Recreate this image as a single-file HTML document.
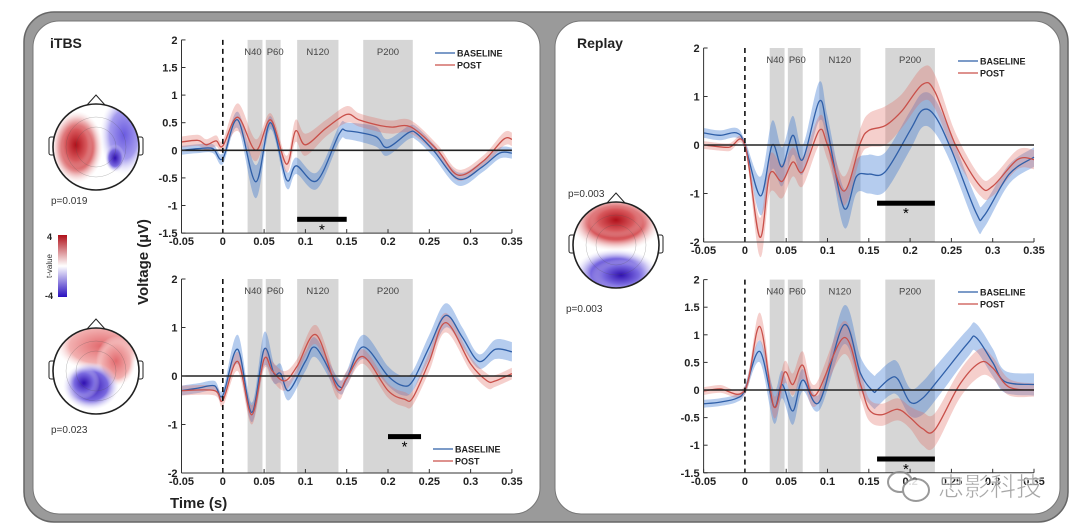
<!DOCTYPE html>
<html><head><meta charset="utf-8"><style>
html,body{margin:0;padding:0;background:#fff;}
svg{display:block;font-family:"Liberation Sans",Arial,sans-serif;}
</style></head><body>
<svg id="s" width="1080" height="532" viewBox="0 0 1080 532" xmlns="http://www.w3.org/2000/svg">
<defs>
<radialGradient id="r1" cx="0.5" cy="0.5" r="0.5"><stop offset="0" stop-color="#b0101a"/><stop offset="0.6" stop-color="#d85a5e"/><stop offset="1" stop-color="#f6d6d6" stop-opacity="0"/></radialGradient>
<radialGradient id="b1" cx="0.5" cy="0.5" r="0.5"><stop offset="0" stop-color="#3010b0"/><stop offset="0.6" stop-color="#7a6ae0"/><stop offset="1" stop-color="#e0dcf8" stop-opacity="0"/></radialGradient>
<radialGradient id="b2" cx="0.5" cy="0.5" r="0.5"><stop offset="0" stop-color="#6a5ae0"/><stop offset="0.6" stop-color="#a59cee"/><stop offset="1" stop-color="#e8e6fa" stop-opacity="0"/></radialGradient>
<radialGradient id="r2" cx="0.5" cy="0.5" r="0.5"><stop offset="0" stop-color="#e26a6e"/><stop offset="0.7" stop-color="#f2b0b0"/><stop offset="1" stop-color="#fbe6e6" stop-opacity="0"/></radialGradient>
<linearGradient id="cb" x1="0" y1="0" x2="0" y2="1"><stop offset="0" stop-color="#b0101a"/><stop offset="0.5" stop-color="#ffffff"/><stop offset="1" stop-color="#2a10c0"/></linearGradient>
<clipPath id="h1"><circle cx="96" cy="147" r="43"/></clipPath>
<clipPath id="h2"><circle cx="96" cy="371" r="43"/></clipPath>
<clipPath id="h3"><circle cx="616" cy="245" r="43"/></clipPath>
</defs>
<rect x="24" y="12" width="1044" height="510" rx="30" fill="#9a9a9a" stroke="#666" stroke-width="1.5"/>
<rect x="33" y="21" width="507" height="493" rx="26" fill="#fff" stroke="#777"/>
<rect x="555" y="21" width="505" height="493" rx="26" fill="#fff" stroke="#777"/>
<g id="plots"></g>
<g id="topo"></g>
<text x="50" y="48" font-size="14" font-weight="bold" fill="#222">iTBS</text>
<text x="577" y="48" font-size="14" font-weight="bold" fill="#222">Replay</text>
<text x="51" y="204" font-size="10" fill="#333">p=0.019</text>
<text x="51" y="433" font-size="10" fill="#333">p=0.023</text>
<text x="568" y="197" font-size="10" fill="#333">p=0.003</text>
<text x="566" y="312" font-size="10" fill="#333">p=0.003</text>
<rect x="58" y="235" width="9" height="62" fill="url(#cb)"/>
<text x="47" y="240" font-size="9" font-weight="bold" fill="#222">4</text>
<text x="45" y="299" font-size="9" font-weight="bold" fill="#222">-4</text>
<text transform="translate(52,266) rotate(-90)" font-size="8" text-anchor="middle" fill="#333">t-value</text>
<text transform="translate(148,262) rotate(-90)" font-size="15" font-weight="bold" text-anchor="middle" fill="#222">Voltage (µV)</text>
<text x="170" y="508" font-size="15" font-weight="bold" fill="#222">Time (s)</text>
<g fill="#888" opacity="0.85">
<ellipse cx="900" cy="482" rx="12" ry="10" fill="none" stroke="#888" stroke-width="2"/>
<ellipse cx="916" cy="490" rx="13" ry="11" fill="#fff" stroke="#888" stroke-width="2"/>
<text x="938" y="496" font-size="26" font-family="'Noto Sans CJK SC',sans-serif" fill="#999" stroke="#fff" stroke-width="0.6">忠影科技</text>
</g>
</svg>
<script>
const NS="http://www.w3.org/2000/svg";
const G=document.getElementById('plots');
function el(n,a,p){const e=document.createElementNS(NS,n);for(const k in a)e.setAttribute(k,a[k]);(p||G).appendChild(e);return e;}
function cr(pts){let d="M"+pts[0][0].toFixed(1)+" "+pts[0][1].toFixed(1);
 for(let i=0;i<pts.length-1;i++){const p0=pts[Math.max(i-1,0)],p1=pts[i],p2=pts[i+1],p3=pts[Math.min(i+2,pts.length-1)];
 const c1=[p1[0]+(p2[0]-p0[0])/6,p1[1]+(p2[1]-p0[1])/6],c2=[p2[0]-(p3[0]-p1[0])/6,p2[1]-(p3[1]-p1[1])/6];
 d+=" C"+c1[0].toFixed(1)+" "+c1[1].toFixed(1)+" "+c2[0].toFixed(1)+" "+c2[1].toFixed(1)+" "+p2[0].toFixed(1)+" "+p2[1].toFixed(1);}
 return d;}
function plot(o){
 const X=t=>o.x0+(t+0.05)/0.05*o.dx, Y=v=>o.y0-v*o.dy;
 [[0.03,0.048,"N40",-2],[0.052,0.07,"P60",2],[0.09,0.14,"N120",0],[0.17,0.23,"P200",0]].forEach(b=>{
  el('rect',{x:X(b[0]),y:Y(o.ymax),width:X(b[1])-X(b[0]),height:Y(o.ymin)-Y(o.ymax),fill:"#d6d6d6"});
  el('text',{x:(X(b[0])+X(b[1]))/2+b[3],y:Y(o.ymax)+15,"font-size":9.5,"text-anchor":"middle",fill:"#444"}).textContent=b[2];});
 [[o.blue,"rgba(60,120,210,0.38)"],[o.red,"rgba(225,110,100,0.33)"]].forEach(s=>{
  const d=s[0];const up=d.map(p=>[X(p[0]),Y(p[1]+(p[2]||0.13))]),lo=d.map(p=>[X(p[0]),Y(p[1]-(p[2]||0.13))]).reverse();
  el('path',{d:cr(up)+" "+cr(lo).replace(/^M/,"L")+" Z",fill:s[1]});
 });
 [[o.blue,"#2f5fa8"],[o.red,"#c9504a"]].forEach(s=>{el('path',{d:cr(s[0].map(p=>[X(p[0]),Y(p[1])])),fill:"none",stroke:s[1],"stroke-width":1.3});});
 el('line',{x1:X(-0.05),x2:X(0.35),y1:Y(0),y2:Y(0),stroke:"#222","stroke-width":1.6});
 el('line',{x1:X(0),x2:X(0),y1:Y(o.ymax),y2:Y(o.ymin),stroke:"#111","stroke-width":1.6,"stroke-dasharray":"5,4"});
 el('rect',{x:X(o.sig[0]),y:Y(o.sig[2])-2.5,width:X(o.sig[1])-X(o.sig[0]),height:5,fill:"#000"});
 el('text',{x:(X(o.sig[0])+X(o.sig[1]))/2,y:Y(o.sig[2])+15,"font-size":15,"text-anchor":"middle",fill:"#000"}).textContent="*";
 el('line',{x1:X(-0.05),x2:X(-0.05),y1:Y(o.ymax),y2:Y(o.ymin),stroke:"#333"});
 el('line',{x1:X(-0.05),x2:X(0.35),y1:Y(o.ymin),y2:Y(o.ymin),stroke:"#333"});
 for(let i=0;i<=8;i++){const t=-0.05+i*0.05,x=X(t);el('line',{x1:x,x2:x,y1:Y(o.ymin),y2:Y(o.ymin)-4,stroke:"#333"});
  el('text',{x:x,y:Y(o.ymin)+12,"font-size":11,"font-weight":"bold","text-anchor":"middle",fill:"#222"}).textContent=(i==1?"0":(+t.toFixed(2)).toString());}
 for(let v=o.ymin;v<=o.ymax+1e-9;v+=o.step){const y=Y(v);el('line',{x1:X(-0.05),x2:X(-0.05)+4,y1:y,y2:y,stroke:"#333"});
  el('text',{x:X(-0.05)-4,y:y+4,"font-size":11,"font-weight":"bold","text-anchor":"end",fill:"#222"}).textContent=(+v.toFixed(1)).toString();}
 const lx=o.leg[0],ly=o.leg[1];
 el('line',{x1:lx,x2:lx+20,y1:ly,y2:ly,stroke:"#2f5fa8","stroke-width":1.3});
 el('line',{x1:lx,x2:lx+20,y1:ly+12,y2:ly+12,stroke:"#c9504a","stroke-width":1.3});
 el('text',{x:lx+22,y:ly+3.5,"font-size":9,"font-weight":"bold",fill:"#222"}).textContent="BASELINE";
 el('text',{x:lx+22,y:ly+15.5,"font-size":9,"font-weight":"bold",fill:"#222"}).textContent="POST";
}
plot({x0:181.5,dx:41.3,y0:150.3,dy:55.2,ymax:2,ymin:-1.5,step:0.5,sig:[0.09,0.15,-1.25],leg:[435,53],
 blue:[[-0.05,0.0,0.08],[-0.03,0.03,0.08],[-0.012,0.03,0.08],[0,-0.15,0.1],[0.018,0.55,0.15],[0.04,-0.57,0.3],[0.0575,0.5,0.12],[0.077,-0.53,0.15],[0.089,-0.28,0.15],[0.114,-0.55,0.15],[0.141,0.3,0.15],[0.151,0.35,0.15],[0.185,0.25,0.18],[0.199,0.05,0.15],[0.225,0.32,0.12],[0.235,0.3,0.12],[0.255,0.0,0.12],[0.285,-0.52,0.12],[0.314,-0.3,0.1],[0.335,-0.05,0.1],[0.35,-0.05,0.1]],
 red:[[-0.05,0.15,0.1],[-0.03,0.18,0.1],[-0.02,0.1,0.1],[-0.008,0.17,0.1],[0,0.08,0.1],[0.018,0.6,0.25],[0.04,0.0,0.2],[0.058,0.55,0.12],[0.077,-0.25,0.15],[0.088,0.35,0.2],[0.1,0.1,0.2],[0.125,0.4,0.15],[0.15,0.65,0.15],[0.165,0.55,0.12],[0.19,0.45,0.12],[0.205,0.42,0.12],[0.228,0.42,0.12],[0.26,0.0,0.1],[0.285,-0.45,0.1],[0.315,-0.2,0.1],[0.34,0.2,0.12],[0.35,0.2,0.12]]});
plot({x0:181.5,dx:41.3,y0:376,dy:48.5,ymax:2,ymin:-2,step:1,sig:[0.2,0.24,-1.25],leg:[433,449],
 blue:[[-0.05,-0.3,0.1],[-0.03,-0.25,0.1],[-0.01,-0.2,0.1],[0,-0.4,0.12],[0.018,0.55,0.3],[0.035,-0.75,0.2],[0.05,0.55,0.35],[0.062,0.05,0.2],[0.07,0.05,0.2],[0.08,-0.3,0.2],[0.1,0.3,0.2],[0.113,0.58,0.2],[0.14,-0.2,0.15],[0.15,-0.05,0.15],[0.17,0.6,0.25],[0.2,0.0,0.2],[0.218,-0.2,0.2],[0.23,-0.1,0.2],[0.25,0.6,0.25],[0.27,1.25,0.25],[0.29,0.8,0.2],[0.31,0.3,0.15],[0.33,0.55,0.2],[0.35,0.5,0.2]],
 red:[[-0.05,-0.3,0.1],[-0.01,-0.3,0.1],[0,-0.5,0.12],[0.018,0.3,0.2],[0.035,-0.8,0.2],[0.05,0.35,0.2],[0.06,0.1,0.2],[0.075,-0.1,0.2],[0.09,0.2,0.15],[0.113,0.85,0.2],[0.138,-0.25,0.2],[0.15,-0.05,0.15],[0.17,0.4,0.15],[0.2,-0.3,0.15],[0.22,-0.48,0.15],[0.23,-0.45,0.15],[0.25,0.3,0.2],[0.27,1.1,0.2],[0.3,0.25,0.15],[0.32,-0.1,0.15],[0.33,-0.1,0.12],[0.35,0.05,0.12]]});
plot({x0:703.6,dx:41.3,y0:145,dy:48.5,ymax:2,ymin:-2,step:1,sig:[0.16,0.23,-1.2],leg:[958,61],
 blue:[[-0.05,0.25,0.1],[-0.03,0.2,0.1],[-0.01,0.25,0.1],[0,0.0,0.1],[0.019,-1.05,0.4],[0.033,0.0,0.5],[0.045,-0.45,0.4],[0.058,0.2,0.4],[0.07,-0.3,0.3],[0.09,0.9,0.4],[0.1,0.3,0.3],[0.12,-1.3,0.4],[0.135,-0.65,0.35],[0.15,-0.6,0.4],[0.17,-0.55,0.4],[0.2,0.3,0.4],[0.215,0.72,0.35],[0.23,0.6,0.35],[0.25,-0.1,0.3],[0.28,-1.4,0.3],[0.29,-1.45,0.25],[0.32,-0.6,0.2],[0.35,-0.25,0.2]],
 red:[[-0.05,0.0,0.08],[-0.02,-0.05,0.08],[0,0.0,0.1],[0.018,-1.9,0.4],[0.03,-0.6,0.4],[0.045,-0.75,0.35],[0.058,-0.35,0.3],[0.07,-0.55,0.3],[0.09,0.3,0.3],[0.1,0.0,0.3],[0.12,-0.95,0.3],[0.14,0.05,0.3],[0.15,0.3,0.35],[0.17,0.4,0.4],[0.19,0.7,0.35],[0.215,1.25,0.35],[0.23,1.1,0.35],[0.255,0.0,0.25],[0.285,-0.85,0.2],[0.3,-0.85,0.2],[0.33,-0.3,0.2],[0.35,-0.3,0.2]]});
plot({x0:703.6,dx:41.3,y0:390,dy:55.2,ymax:2,ymin:-1.5,step:0.5,sig:[0.16,0.23,-1.25],leg:[958,292],
 blue:[[-0.05,-0.25,0.07],[-0.03,-0.22,0.07],[-0.01,-0.15,0.07],[0,0.0,0.08],[0.018,0.7,0.2],[0.035,-0.3,0.3],[0.045,0.1,0.25],[0.058,-0.38,0.25],[0.07,0.18,0.2],[0.09,-0.22,0.15],[0.12,1.18,0.35],[0.14,0.3,0.3],[0.155,-0.02,0.3],[0.16,0.0,0.3],[0.175,0.2,0.3],[0.185,0.2,0.3],[0.2,-0.22,0.25],[0.215,-0.15,0.3],[0.235,0.2,0.3],[0.27,0.85,0.25],[0.28,0.95,0.25],[0.3,0.5,0.25],[0.315,0.15,0.2],[0.35,0.1,0.2]],
 red:[[-0.05,-0.02,0.07],[-0.03,0.02,0.07],[0,0.0,0.08],[0.018,1.15,0.25],[0.035,-0.3,0.2],[0.048,0.32,0.2],[0.058,0.1,0.2],[0.07,0.45,0.25],[0.085,-0.1,0.2],[0.12,0.95,0.3],[0.14,0.1,0.25],[0.15,-0.35,0.2],[0.165,-0.45,0.2],[0.185,-0.35,0.2],[0.2,-0.5,0.2],[0.215,-0.7,0.3],[0.23,-0.72,0.3],[0.26,0.1,0.25],[0.285,0.5,0.25],[0.3,0.4,0.2],[0.32,0.05,0.15],[0.35,0.0,0.12]]});
const T=document.getElementById('topo');
function head(cx,cy,clip,blobs){
 el('rect',{x:cx-47,y:cy-10,width:6,height:18,rx:2,fill:"#fff",stroke:"#222"},T);
 el('rect',{x:cx+41,y:cy-10,width:6,height:18,rx:2,fill:"#fff",stroke:"#222"},T);
 el('path',{d:`M${cx-9} ${cy-42} L${cx} ${cy-52} L${cx+9} ${cy-42}`,fill:"#fff",stroke:"#222"},T);
 el('circle',{cx:cx,cy:cy,r:43,fill:"#fff"},T);
 const g=el('g',{"clip-path":`url(#${clip})`},T);
 blobs.forEach(b=>el('ellipse',{cx:cx+b[0],cy:cy+b[1],rx:b[2],ry:b[3],fill:`url(#${b[4]})`},g));
 [30,20].forEach(r=>el('circle',{cx:cx,cy:cy,r:r,fill:"none",stroke:"#555","stroke-width":0.5,opacity:0.4},g));
 el('circle',{cx:cx,cy:cy,r:43,fill:"none",stroke:"#222","stroke-width":1.6},T);
}
head(96,147,"h1",[[-19,0,26,36,"r1"],[-20,-2,18,26,"r1"],[28,-12,24,40,"b2"],[19,11,10,14,"b1"]]);
head(96,371,"h2",[[5,-25,45,25,"r2"],[20,-10,20,25,"r2"],[-5,15,28,24,"b1"],[-12,12,16,16,"b1"]]);
head(616,245,"h3",[[0,-22,45,28,"r1"],[0,-25,30,18,"r1"],[0,28,42,24,"b1"],[5,30,30,16,"b1"]]);
</script>
</body></html>
